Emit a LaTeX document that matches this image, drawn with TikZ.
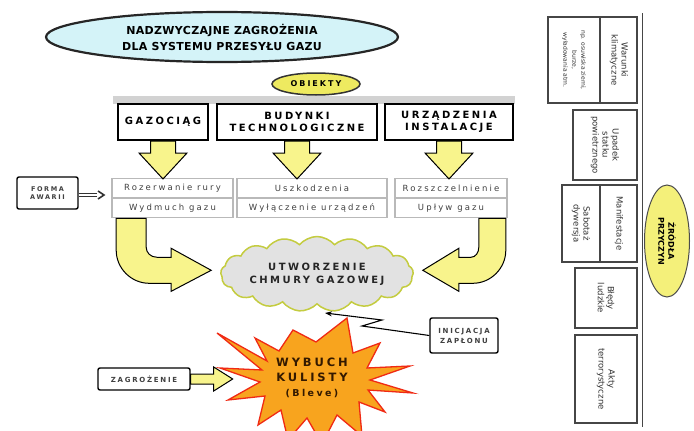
\documentclass[tikz,border=0pt]{standalone}
\usepackage{fontspec}
\setmainfont{DejaVu Sans}
\newfontfamily\titlefont[LetterSpace=3]{DejaVu Sans}
\newfontfamily\widefont[LetterSpace=25]{DejaVu Sans}
\usetikzlibrary{shapes.geometric,shapes.symbols,arrows.meta,calc}
\definecolor{titlefill}{HTML}{D4F3F8}
\definecolor{yel}{HTML}{F8F48C}
\definecolor{objfill}{HTML}{EEEA60}
\definecolor{cloudfill}{HTML}{E2E2E2}
\definecolor{clouddraw}{HTML}{C4CC40}
\definecolor{boom}{HTML}{F8A41E}
\definecolor{boomdraw}{HTML}{F02A14}
\definecolor{srcfill}{HTML}{F4F07A}
\tikzset{
 tbox/.style={draw=black, line width=2pt, minimum height=36pt, inner sep=0pt, align=center,
   font=\widefont\bfseries\fontsize{10}{12}\selectfont},
 cell/.style={draw=gray!55, line width=1.6pt, minimum height=19pt, inner sep=0pt,
   font=\widefont\fontsize{8.5}{10}\selectfont, text=black!75},
 yarrow/.style={fill=yel, draw=black, line width=1pt, line join=miter},
 sbox/.style={draw=black, line width=1.4pt, rounded corners=2pt, inner sep=0pt, align=center,
   text=black!75},
 rbox/.style={draw=gray!55!black, line width=1.1pt, inner sep=0pt},
 rtext/.style={rotate=-90, align=center, font=\fontsize{8.5}{10}\selectfont, text=black!80, inner sep=0pt},
}
\begin{document}
\begin{tikzpicture}[x=1pt,y=-1pt]
\useasboundingbox (0,0) rectangle (694,431);
\fill[white] (0,0) rectangle (694,431);

% title
\node[ellipse, draw=black!85, line width=2.2pt, fill=titlefill, minimum width=352pt, minimum height=50pt,
  inner sep=0pt, align=center, font=\titlefont\bfseries\fontsize{11}{16}\selectfont] (title) at (222,37)
  {NADZWYCZAJNE ZAGROŻENIA\\DLA SYSTEMU PRZESYŁU GAZU};

\node[ellipse, draw=black!80, line width=1.5pt, fill=objfill, minimum width=88pt, minimum height=22pt,
  inner sep=0pt, font=\widefont\bfseries\fontsize{8}{9}\selectfont] (obj) at (316,84) {OBIEKTY};

\fill[gray!35] (113,96) rectangle (515,104);

% object boxes
\node[tbox, minimum width=90pt] (gaz) at (163,122) {GAZOCIĄG};
\node[tbox, minimum width=160pt] (bud) at (297,122) {BUDYNKI\\TECHNOLOGICZNE};
\node[tbox, minimum width=128pt] (urz) at (449,122) {URZĄDZENIA\\INSTALACJE};

% cells
\node[cell, minimum width=121pt] (c11) at (172.5,188) {Rozerwanie rury};
\node[cell, minimum width=121pt] (c12) at (172.5,208) {Wydmuch gazu};
\node[cell, minimum width=150pt] (c21) at (312,188) {Uszkodzenia};
\node[cell, minimum width=150pt] (c22) at (312,208) {Wyłączenie urządzeń};
\node[cell, minimum width=112pt] (c31) at (451,188) {Rozszczelnienie};
\node[cell, minimum width=112pt] (c32) at (451,208) {Upływ gazu};

% down arrows
\foreach \n in {gaz,bud,urz}{
 \draw[yarrow] ([xshift=-12.5pt]\n.south) -- ++(25,0) -- ++(0,12) -- ++(11.5,0) -- ++(-24,26)
   -- ++(-24,-26) -- ++(11.5,0) -- cycle;
}

% forma awarii
\node[sbox, minimum width=61pt, minimum height=32pt, font=\widefont\bfseries\fontsize{6.5}{8}\selectfont] (forma) at (47.5,193) {FORMA\\AWARII};
\coordinate (fa) at (97,195);
\draw[black!80, double, double distance=2pt, line width=1pt] (forma.east |- fa) -- (fa);
\draw[black!80, line width=1.6pt] ([shift={(1,-4)}]fa) -- ([shift={(7,0)}]fa) -- ([shift={(1,4)}]fa);

% curved arrows
\draw[yarrow] ([xshift=5pt]c12.south west) -- ++(0,32) .. controls +(0,18) and +(-18,0) .. ++(33,33)
  -- ++(22,0) -- ++(0,8) -- ++(40,-21) -- ++(-40,-22) -- ++(0,9) -- ++(-14,0)
  .. controls +(-7,0) and +(0,5) .. ++(-11,-10) -- ++(0,-29) -- cycle;
\draw[yarrow] ([xshift=-2pt]c32.south east) -- ++(0,32) .. controls +(0,18) and +(18,0) .. ++(-33,33)
  -- ++(-14,0) -- ++(0,8) -- ++(-36,-21) -- ++(36,-22) -- ++(0,9) -- ++(12,0)
  .. controls +(5,0) and +(0,5) .. ++(8,-10) -- ++(0,-29) -- cycle;

% cloud
\node[cloud, cloud puffs=17, cloud puff arc=100, aspect=3.2, draw=clouddraw, line width=1.5pt,
  fill=cloudfill, minimum width=190pt, minimum height=58pt, inner sep=0pt, align=center,
  font=\widefont\bfseries\fontsize{10}{13}\selectfont, text=black!85] (cloud) at (317,274)
  {UTWORZENIE\\CHMURY GAZOWEJ};

% ignition
\node[sbox, minimum width=68pt, minimum height=35pt, font=\widefont\bfseries\fontsize{7}{10}\selectfont] (inic) at (464,335.5) {INICJACJA\\ZAPŁONU};
\coordinate (ig) at (325,313);
\draw[line width=1.1pt, -{Stealth[length=7pt,width=5pt]}] (inic.west) -- (362,326) -- (382,320) -- (ig);

% starburst
\path[fill=boom, draw=boomdraw, line width=1.3pt, line join=miter]
 (347,318) -- (353,353) -- (380,343) -- (367,368) -- (410,366) -- (370,380) -- (413,393) -- (368,390)
 -- (385,412) -- (359,402) -- (362,436) -- (337,415) -- (322,444) -- (307,418) -- (288,440) -- (281,410)
 -- (258,425) -- (265,396) -- (228,400) -- (260,382) -- (220,368) -- (262,370) -- (217,333)
 -- (267,361) -- (255,338) -- (279,351) -- (293,330) -- (316,342) -- cycle;
\node[align=center, inner sep=0pt, text=black!80!orange, font=\widefont\bfseries\fontsize{11.5}{15}\selectfont] (boomtxt) at (312,378)
  {WYBUCH\\KULISTY\\{\fontsize{9.5}{15}\selectfont(Bleve)}};

% zagrozenie
\node[sbox, minimum width=92pt, minimum height=22pt, font=\widefont\bfseries\fontsize{7}{9}\selectfont] (zag) at (144,379) {ZAGROŻENIE};
\draw[yarrow] ([yshift=5pt]zag.east) -- ++(23,0) -- ++(0,-7) -- ++(19,12) -- ++(-19,12) -- ++(0,-7) -- ++(-23,0) -- cycle;

% right panel
\draw[gray!55!black, line width=1pt] (642,13) -- (642,427);
\node[rbox, minimum width=89pt, minimum height=86pt] (b1) at (592.5,60) {};
\draw[gray!55!black, line width=1.1pt] ([xshift=7.5pt]b1.north) -- ([xshift=7.5pt]b1.south);
\node[rtext] (b1a) at (619,60) {Warunki\\klimatyczne};
\node[rtext, font=\fontsize{6}{9}\selectfont] (b1b) at (574,60) {np. osuwiska ziemi,\\burze,\\wyładowania atm.};

\node[rbox, minimum width=64pt, minimum height=70pt] (b2) at (605,145) {};
\node[rtext] (b2a) at (605,145) {Upadek\\statku\\powietrznego};

\node[rbox, minimum width=75pt, minimum height=77pt] (b3) at (599.5,223.5) {};
\draw[gray!55!black, line width=1.1pt] ([xshift=0.5pt]b3.north) -- ([xshift=0.5pt]b3.south);
\node[rtext] (b3a) at (619,223.5) {Manifestacje};
\node[rtext] (b3b) at (581,223.5) {Sabotaż\\dywersja};

\node[rbox, minimum width=62pt, minimum height=60pt] (b4) at (606,298) {};
\node[rtext] (b4a) at (606,298) {Błędy\\ludzkie};

\node[rbox, minimum width=62pt, minimum height=88pt] (b5) at (606,379) {};
\node[rtext] (b5a) at (606,379) {Akty\\terrorystyczne};

\node[ellipse, rotate=-90, draw=gray!60!black, line width=1pt, fill=srcfill, minimum width=112pt,
  minimum height=45pt, inner sep=0pt, align=center, font=\bfseries\fontsize{8}{10}\selectfont] (src) at (667,241)
  {ŹRÓDŁA\\PRZYCZYN};
\end{tikzpicture}
\end{document}
